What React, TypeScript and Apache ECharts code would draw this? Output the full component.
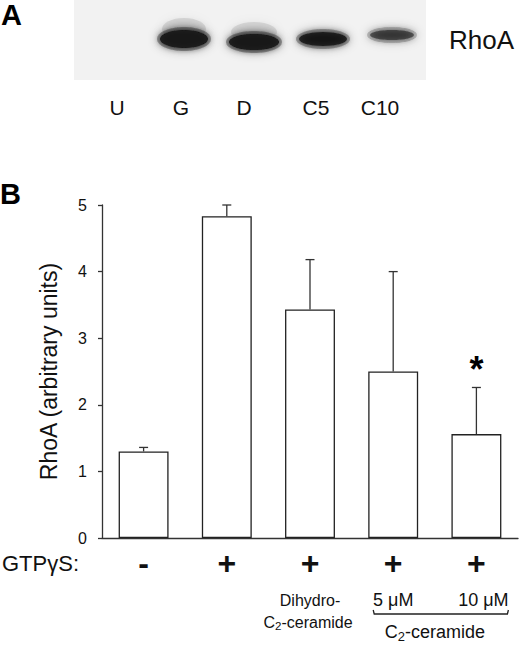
import React, { useEffect, useRef } from "react";
import * as echarts from "echarts";

// ---- data ----
const categories = ["U", "G", "D", "C5", "C10"];
const gtpLabels = ["-", "+", "+", "+", "+"];
const rhoaValues = [1.3, 4.83, 3.43, 2.5, 1.56];
const rhoaErrors = [0.06, 0.17, 0.75, 1.5, 0.7];
const significant = [false, false, false, false, true];
const yMin = 0;
const yMax = 5;
const yInterval = 1;
const bandIntensity = [0, 1.0, 1.0, 0.88, 0.62];

// ---- gel layout (panel A decoration) ----
const laneLabelX = [117, 181, 244, 316, 380];
const bandGeom = [
  null,
  { cx: 184, cy: 39, rx: 24, ry: 9, haze: true },
  { cx: 254, cy: 42, rx: 25, ry: 8, haze: true },
  { cx: 323, cy: 39, rx: 24, ry: 7, haze: false },
  { cx: 392, cy: 35, rx: 22, ry: 5, haze: false },
];

const FONT = "'Liberation Sans', Arial, Helvetica, sans-serif";

function txt(x: number, y: number, text: string, size: number, opts: any = {}) {
  return {
    type: "text",
    x,
    y,
    silent: true,
    style: {
      text,
      fontSize: size,
      fontFamily: FONT,
      fontWeight: opts.bold ? "bold" : "normal",
      fill: opts.fill || "#111",
      textAlign: opts.align || "center",
      textVerticalAlign: opts.valign || "middle",
      ...(opts.rich ? { rich: opts.rich } : {}),
    },
  };
}

function gelGraphics(): any[] {
  const els: any[] = [];
  els.push({
    type: "rect",
    shape: { x: 74, y: 0, width: 352, height: 80 },
    style: { fill: "#f2f2f2" },
    silent: true,
  });
  bandGeom.forEach((g, i) => {
    if (!g || bandIntensity[i] <= 0) return;
    const k = bandIntensity[i];
    if (g.haze) {
      els.push({
        type: "ellipse",
        shape: { cx: g.cx, cy: g.cy - 10, rx: g.rx - 2, ry: g.ry + 2 },
        style: { fill: "#000", opacity: 0.1 * k, shadowBlur: 8, shadowColor: "rgba(0,0,0,0.5)" },
        silent: true,
      });
    }
    els.push({
      type: "ellipse",
      shape: { cx: g.cx, cy: g.cy, rx: g.rx + 3, ry: g.ry + 3 },
      style: { fill: "#1a1a1a", opacity: 0.35 * k, shadowBlur: 10, shadowColor: "rgba(0,0,0,0.9)" },
      silent: true,
    });
    els.push({
      type: "ellipse",
      shape: { cx: g.cx, cy: g.cy, rx: g.rx, ry: g.ry },
      style: { fill: "#141414", opacity: 0.9 * k, shadowBlur: 6, shadowColor: "rgba(0,0,0,0.9)" },
      silent: true,
    });
  });
  categories.forEach((c, i) => {
    els.push(txt(laneLabelX[i], 107, c, 21));
  });
  els.push(txt(449, 40, "RhoA", 26, { align: "left" }));
  return els;
}

export default function App() {
  const ref = useRef<HTMLDivElement>(null);

  useEffect(() => {
    document.body.style.margin = "0";
    if (!ref.current) return;
    const chart = echarts.init(ref.current, undefined, { renderer: "svg" });

    chart.setOption({
      animation: false,
      backgroundColor: "#ffffff",
      grid: { left: 102, right: 2, top: 205, bottom: 107, containLabel: false },
      xAxis: {
        type: "category",
        data: categories,
        boundaryGap: true,
        axisLine: { show: true, lineStyle: { color: "#333", width: 1.3 } },
        axisTick: { show: false },
        axisLabel: {
          formatter: (_v: string, i: number) => gtpLabels[i],
          fontSize: 32,
          fontWeight: "bold",
          fontFamily: FONT,
          color: "#111",
          margin: 25,
          verticalAlign: "middle",
          lineHeight: 32,
          interval: 0,
        },
        splitLine: { show: false },
      },
      yAxis: {
        type: "value",
        min: yMin,
        max: yMax,
        interval: yInterval,
        name: "RhoA (arbitrary units)",
        nameLocation: "middle",
        nameGap: 42,
        nameRotate: 90,
        nameTextStyle: { fontSize: 23, fontFamily: FONT, color: "#111" },
        axisLine: { show: true, lineStyle: { color: "#333", width: 1.3 } },
        axisTick: { show: true, inside: false, length: 4, lineStyle: { color: "#333", width: 1.3 } },
        axisLabel: { fontSize: 16, fontFamily: FONT, color: "#111", margin: 15 },
        splitLine: { show: false },
      },
      series: [
        {
          type: "bar",
          data: rhoaValues,
          barWidth: "60%",
          itemStyle: { color: "#ffffff", borderColor: "#222", borderWidth: 1.3 },
          silent: true,
        },
        {
          type: "custom",
          data: categories.map((_c, i) => [i, rhoaValues[i], rhoaErrors[i]]),
          encode: { x: 0, y: 1 },
          silent: true,
          z: 3,
          renderItem: (_params: any, api: any) => {
            const i = api.value(0);
            const v = api.value(1);
            const e = api.value(2);
            const base = api.coord([i, v]);
            const top = api.coord([i, v + e]);
            const st = { stroke: "#333", lineWidth: 1.3 };
            return {
              type: "group",
              children: [
                { type: "line", shape: { x1: base[0], y1: base[1], x2: base[0], y2: top[1] }, style: st },
                { type: "line", shape: { x1: base[0] - 4.5, y1: top[1], x2: base[0] + 4.5, y2: top[1] }, style: st },
              ],
            };
          },
        },
      ],
    });

    const px = (i: number, v: number) =>
      chart.convertToPixel({ xAxisIndex: 0, yAxisIndex: 0 }, [categories[i], v]) as number[];

    const c2 = (size: number) => ({
      b: { fontSize: size, fontFamily: FONT, fill: "#111" },
      s: { fontSize: size * 0.72, fontFamily: FONT, fill: "#111", padding: [size * 0.45, 0, 0, 0] },
    });

    const extra: any[] = [];
    extra.push(txt(1, 0, "A", 29, { bold: true, align: "left", valign: "top", fill: "#000" }));
    extra.push(txt(0, 179, "B", 29, { bold: true, align: "left", valign: "top", fill: "#000" }));
    const baseY = px(0, 0)[1];
    extra.push(txt(2, baseY + 25, "GTPγS:", 22, { align: "left" }));
    significant.forEach((sig, i) => {
      if (!sig) return;
      const p = px(i, rhoaValues[i] + rhoaErrors[i]);
      extra.push(txt(p[0], p[1] - 36, "*", 36, { bold: true, valign: "top", fill: "#000" }));
    });
    const x3 = px(2, 0)[0];
    const x4 = px(3, 0)[0];
    const x5 = px(4, 0)[0];
    extra.push(txt(x3, baseY + 62, "Dihydro-", 16));
    extra.push(txt(x3 - 2, baseY + 84, "{b|C}{s|2}{b|-ceramide}", 16, { rich: c2(16) }));
    extra.push(txt(x4, baseY + 62, "5 μM", 18));
    extra.push(txt(x5 + 7, baseY + 62, "10 μM", 18));
    const bx1 = x4 - 20;
    const bx2 = x5 + 32;
    const by = baseY + 76;
    extra.push({
      type: "polyline",
      silent: true,
      shape: { points: [[bx1, by - 4], [bx1 + 1, by], [bx2 - 1, by], [bx2, by - 4]] },
      style: { stroke: "#222", lineWidth: 1.3, fill: null },
    });
    extra.push(txt((x4 + x5) / 2, baseY + 94, "{b|C}{s|2}{b|-ceramide}", 18, { rich: c2(18) }));

    chart.setOption({ graphic: { elements: [...gelGraphics(), ...extra] } });

    return () => chart.dispose();
  }, []);

  return <div ref={ref} style={{ width: 520, height: 645 }} />;
}
